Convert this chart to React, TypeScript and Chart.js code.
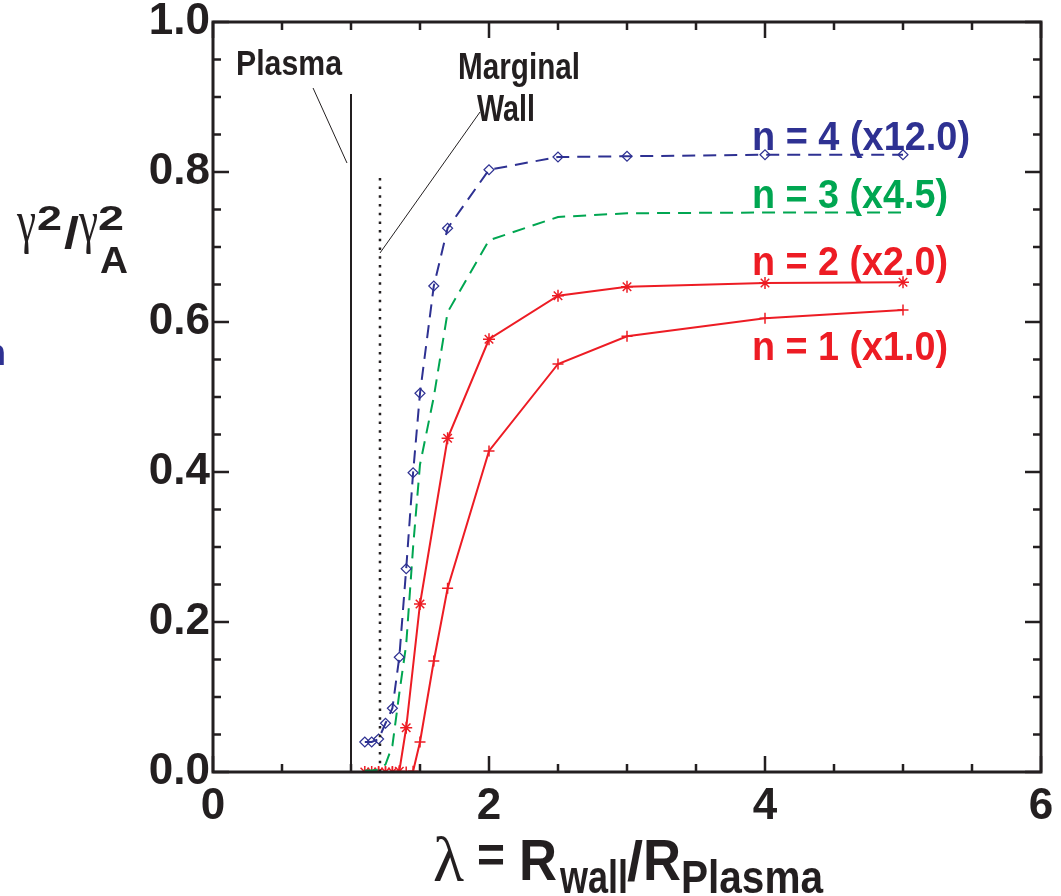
import React, { useEffect, useRef } from "react";
import { Chart, registerables } from "chart.js";

Chart.register(...registerables);

// ---- data ----
const lambdaN4 = [1.1, 1.15, 1.2, 1.25, 1.3, 1.35, 1.4, 1.45, 1.5, 1.6, 1.7, 2.0, 2.5, 3.0, 4.0, 5.0];
const gammaN4 = [0.04, 0.04, 0.044, 0.065, 0.085, 0.153, 0.271, 0.399, 0.505, 0.648, 0.725, 0.803, 0.82, 0.821, 0.823, 0.823];

const lambdaN3 = [1.1, 1.15, 1.2, 1.25, 1.3, 1.35, 1.4, 1.45, 1.5, 1.6, 1.7, 2.0, 2.5, 3.0, 4.0, 5.0];
const gammaN3 = [0.002, 0.002, 0.003, 0.01, 0.035, 0.105, 0.17, 0.3, 0.41, 0.5, 0.613, 0.709, 0.74, 0.745, 0.746, 0.746];

const lambdaN2 = [1.1, 1.15, 1.2, 1.25, 1.3, 1.35, 1.4, 1.5, 1.7, 2.0, 2.5, 3.0, 4.0, 5.0];
const gammaN2 = [0.0, 0.0, 0.0, 0.0, 0.0, 0.001, 0.059, 0.224, 0.445, 0.577, 0.635, 0.647, 0.652, 0.653];

const lambdaN1 = [1.2, 1.25, 1.3, 1.35, 1.4, 1.45, 1.5, 1.6, 1.7, 2.0, 2.5, 3.0, 4.0, 5.0];
const gammaN1 = [0.0, 0.0, 0.0, 0.0, 0.0, 0.001, 0.04, 0.148, 0.245, 0.428, 0.544, 0.581, 0.605, 0.616];

const seriesLabels = ["n = 4 (x12.0)", "n = 3 (x4.5)", "n = 2 (x2.0)", "n = 1 (x1.0)"];

const xTickValues = [0, 2, 4, 6];
const yTickValues = [0.0, 0.2, 0.4, 0.6, 0.8, 1.0];

// reference lines (lambda positions and heights)
const plasmaLambda = 1.0;
const plasmaTop = 0.904;
const marginalLambda = 1.21;
const marginalTop = 0.792;
const plasmaPointer = [{ x: 0.725, y: 0.912 }, { x: 0.971, y: 0.812 }];
const wallPointer = [{ x: 1.935, y: 0.88 }, { x: 1.21, y: 0.692 }];

const BLUE = "#2E3192";
const GREEN = "#00A651";
const RED = "#ED1C24";
const INK = "#231F20";
const SANS = "'Liberation Sans', Arial, Helvetica, sans-serif";
const SERIF = "'Liberation Serif', 'DejaVu Serif', serif";

const zip = (xs: number[], ys: number[]) => xs.map((x, i) => ({ x, y: ys[i] }));

function fitText(
  ctx: CanvasRenderingContext2D,
  text: string,
  left: number,
  baseline: number,
  width: number,
  font: string,
  color: string
) {
  ctx.save();
  ctx.font = font;
  ctx.fillStyle = color;
  ctx.textAlign = "left";
  ctx.textBaseline = "alphabetic";
  const w = ctx.measureText(text).width;
  const s = width / w;
  ctx.translate(left, baseline);
  ctx.scale(s, 1);
  ctx.fillText(text, 0, 0);
  ctx.restore();
}

const framePlugin = {
  id: "frameAndText",
  afterDraw(chart: any) {
    const ctx: CanvasRenderingContext2D = chart.ctx;
    const { left, right, top, bottom } = chart.chartArea;
    const xs = chart.scales.x;
    const ys = chart.scales.y;
    ctx.save();
    ctx.strokeStyle = INK;
    ctx.lineCap = "butt";
    // ticks
    ctx.lineWidth = 2.5;
    for (let v = 0; v <= 6.0001; v += 0.5) {
      const px = xs.getPixelForValue(v);
      const major = Math.abs(v / 2 - Math.round(v / 2)) < 1e-6;
      const len = major ? 16 : 8;
      ctx.beginPath();
      ctx.moveTo(px, bottom);
      ctx.lineTo(px, bottom - len);
      ctx.moveTo(px, top);
      ctx.lineTo(px, top + len);
      ctx.stroke();
    }
    for (let i = 0; i <= 20; i++) {
      const v = i * 0.05;
      const py = ys.getPixelForValue(v);
      const len = i % 4 === 0 ? 16 : 8;
      ctx.beginPath();
      ctx.moveTo(left, py);
      ctx.lineTo(left + len, py);
      ctx.moveTo(right, py);
      ctx.lineTo(right - len, py);
      ctx.stroke();
    }
    // frame
    ctx.lineWidth = 3;
    ctx.strokeRect(left, top, right - left, bottom - top);
    ctx.restore();

    // annotations
    fitText(ctx, "Plasma", 236, 75, 106, `bold 35px ${SANS}`, INK);
    fitText(ctx, "Marginal", 458, 79, 122, `bold 36px ${SANS}`, INK);
    fitText(ctx, "Wall", 477, 121, 58, `bold 36px ${SANS}`, INK);

    // series labels
    fitText(ctx, seriesLabels[0], 752, 150, 218, `bold 40px ${SANS}`, BLUE);
    fitText(ctx, seriesLabels[1], 752, 208, 196, `bold 40px ${SANS}`, GREEN);
    fitText(ctx, seriesLabels[2], 752, 275, 196, `bold 40px ${SANS}`, RED);
    fitText(ctx, seriesLabels[3], 752, 360, 196, `bold 40px ${SANS}`, RED);

    // x axis title: λ = R_wall/R_Plasma
    fitText(ctx, "\u03BB", 433, 881, 31, `64px ${SERIF}`, INK);
    fitText(ctx, "=", 477, 872, 28, `bold 52px ${SANS}`, INK);
    fitText(ctx, "R", 519, 880, 38, `bold 58px ${SANS}`, INK);
    fitText(ctx, "wall", 560, 893, 68, `bold 46px ${SANS}`, INK);
    fitText(ctx, "/", 627, 880, 16, `bold 56px ${SANS}`, INK);
    fitText(ctx, "R", 643, 880, 38, `bold 58px ${SANS}`, INK);
    fitText(ctx, "Plasma", 681, 893, 142, `bold 46px ${SANS}`, INK);

    // y axis title: γ²/γ²_A
    fitText(ctx, "\u03B3", 17, 241, 19, `60px ${SERIF}`, INK);
    fitText(ctx, "2", 37, 230, 25, `bold 35px ${SANS}`, INK);
    fitText(ctx, "/", 64, 248, 15, `bold 44px ${SANS}`, INK);
    fitText(ctx, "\u03B3", 79, 241, 19, `60px ${SERIF}`, INK);
    fitText(ctx, "2", 98, 230, 26, `bold 35px ${SANS}`, INK);
    fitText(ctx, "A", 100, 273, 28, `bold 36px ${SANS}`, INK);

    // clipped fragment at left edge
    fitText(ctx, "n", -16, 365, 22, `bold 36px ${SANS}`, BLUE);
  },
};

export default function App() {
  const ref = useRef<HTMLCanvasElement>(null);

  useEffect(() => {
    if (!ref.current) return;
    const chart = new Chart(ref.current, {
      type: "scatter",
      data: {
        datasets: [
          {
            label: "plasma",
            data: [
              { x: plasmaLambda, y: 0 },
              { x: plasmaLambda, y: plasmaTop },
            ],
            showLine: true,
            borderColor: INK,
            borderWidth: 2,
            pointRadius: 0,
          },
          {
            label: "marginal wall",
            data: [
              { x: marginalLambda, y: 0 },
              { x: marginalLambda, y: marginalTop },
            ],
            showLine: true,
            borderColor: INK,
            borderWidth: 2.5,
            borderDash: [2.5, 6.2],
            pointRadius: 0,
          },
          {
            label: "plasma pointer",
            data: plasmaPointer,
            showLine: true,
            borderColor: INK,
            borderWidth: 1,
            pointRadius: 0,
          },
          {
            label: "wall pointer",
            data: wallPointer,
            showLine: true,
            borderColor: INK,
            borderWidth: 1,
            pointRadius: 0,
          },
          {
            label: seriesLabels[0],
            data: zip(lambdaN4, gammaN4),
            showLine: true,
            borderColor: BLUE,
            borderWidth: 2,
            borderDash: [13, 8],
            pointStyle: "rectRot",
            pointRadius: 5,
            pointBorderWidth: 1.2,
            pointBorderColor: BLUE,
            pointBackgroundColor: "rgba(255,255,255,0)",
          },
          {
            label: seriesLabels[1],
            data: zip(lambdaN3, gammaN3),
            showLine: true,
            borderColor: GREEN,
            borderWidth: 2,
            borderDash: [13, 8],
            pointRadius: 0,
          },
          {
            label: seriesLabels[2],
            data: zip(lambdaN2, gammaN2),
            showLine: true,
            borderColor: RED,
            borderWidth: 2,
            pointStyle: "star",
            pointRadius: 6,
            pointBorderWidth: 1.5,
            pointBorderColor: RED,
          },
          {
            label: seriesLabels[3],
            data: zip(lambdaN1, gammaN1),
            showLine: true,
            borderColor: RED,
            borderWidth: 2,
            pointStyle: "cross",
            pointRadius: 5.5,
            pointBorderWidth: 1.5,
            pointBorderColor: RED,
          },
        ],
      },
      options: {
        responsive: false,
        animation: false,
        devicePixelRatio: 1,
        events: [],
        layout: { padding: { left: 0, top: 22, right: 20, bottom: 0 } },
        plugins: {
          legend: { display: false },
          tooltip: { enabled: false },
        },
        scales: {
          x: {
            type: "linear",
            min: 0,
            max: 6,
            afterFit: (s: any) => {
              s.height = 124;
              s.paddingLeft = 0;
              s.paddingRight = 0;
            },
            afterBuildTicks: (s: any) => {
              s.ticks = xTickValues.map((v) => ({ value: v }));
            },
            grid: { display: false, drawTicks: false },
            border: { display: false },
            ticks: {
              padding: 8,
              color: INK,
              font: { family: SANS, size: 44, weight: "bold" },
              callback: (v: any) => String(v),
              autoSkip: false,
              maxRotation: 0,
            },
          },
          y: {
            type: "linear",
            min: 0,
            max: 1,
            afterFit: (s: any) => {
              s.width = 213;
              s.paddingTop = 0;
              s.paddingBottom = 0;
            },
            afterBuildTicks: (s: any) => {
              s.ticks = yTickValues.map((v) => ({ value: v }));
            },
            grid: { display: false, drawTicks: false },
            border: { display: false },
            ticks: {
              padding: 3,
              color: INK,
              font: { family: SANS, size: 44, weight: "bold" },
              callback: (v: any) => Number(v).toFixed(1),
              autoSkip: false,
            },
          },
        },
      },
      plugins: [framePlugin],
    } as any);
    return () => chart.destroy();
  }, []);

  return (
    <div
      style={{
        position: "fixed",
        left: 0,
        top: 0,
        width: 1061,
        height: 896,
        background: "#ffffff",
      }}
    >
      <canvas ref={ref} width={1061} height={896} style={{ display: "block", width: 1061, height: 896 }} />
    </div>
  );
}
